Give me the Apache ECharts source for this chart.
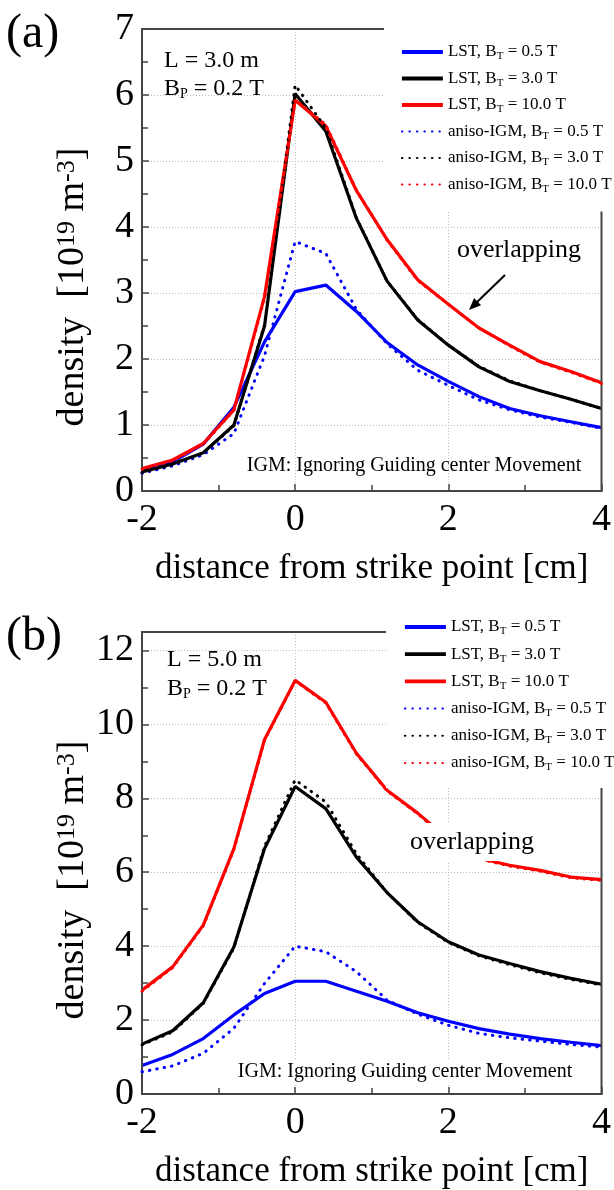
<!DOCTYPE html>
<html>
<head>
<meta charset="utf-8">
<script src="https://cdn.jsdelivr.net/npm/echarts@6/dist/echarts.min.js"></script>
<style>
  html, body { margin: 0; padding: 0; background: #fff; }
  #chart { width: 614px; height: 1190px; }
</style>
</head>
<body>
<div id="chart"></div>
<script>
// distance from strike point [cm]
const xCm = [-2, -1.6, -1.2, -0.8, -0.4, 0, 0.4, 0.8, 1.2, 1.6, 2.0, 2.4, 2.8, 3.2, 3.6, 4.0]

// (a) L = 3.0 m
const lstA05  = [0.31, 0.44, 0.71, 1.27, 2.26, 3.02, 3.12, 2.72, 2.25, 1.91, 1.66, 1.43, 1.25, 1.14, 1.05, 0.96]
const lstA30  = [0.29, 0.41, 0.58, 1.00, 2.50, 6.02, 5.45, 4.13, 3.18, 2.59, 2.21, 1.88, 1.66, 1.52, 1.39, 1.25]
const lstA100 = [0.34, 0.47, 0.72, 1.23, 2.95, 5.92, 5.53, 4.55, 3.81, 3.20, 2.83, 2.47, 2.21, 1.96, 1.81, 1.64]
const igmA05  = [0.27, 0.38, 0.55, 0.87, 2.05, 3.78, 3.60, 2.75, 2.23, 1.83, 1.60, 1.38, 1.23, 1.12, 1.04, 0.95]
const igmA30  = [0.28, 0.40, 0.57, 0.99, 2.52, 6.15, 5.50, 4.14, 3.18, 2.60, 2.21, 1.89, 1.67, 1.52, 1.39, 1.25]
const igmA100 = [0.33, 0.46, 0.71, 1.22, 2.92, 5.93, 5.55, 4.56, 3.80, 3.19, 2.83, 2.47, 2.20, 1.95, 1.80, 1.63]

// (b) L = 5.0 m
const lstB05  = [0.77, 1.07, 1.50, 2.14, 2.72, 3.05, 3.05, 2.78, 2.51, 2.20, 1.97, 1.77, 1.62, 1.50, 1.40, 1.31]
const lstB30  = [1.35, 1.71, 2.47, 3.98, 6.64, 8.32, 7.72, 6.41, 5.45, 4.66, 4.12, 3.76, 3.53, 3.31, 3.13, 2.97]
const lstB100 = [2.81, 3.44, 4.57, 6.64, 9.59, 11.19, 10.60, 9.22, 8.22, 7.60, 6.90, 6.38, 6.19, 6.05, 5.87, 5.80]
const igmB05  = [0.60, 0.76, 1.10, 1.78, 2.99, 4.00, 3.85, 3.31, 2.54, 2.16, 1.86, 1.64, 1.52, 1.43, 1.34, 1.27]
const igmB30  = [1.33, 1.68, 2.45, 3.95, 6.70, 8.50, 7.90, 6.50, 5.45, 4.64, 4.10, 3.74, 3.50, 3.28, 3.10, 2.95]
const igmB100 = [2.78, 3.42, 4.55, 6.62, 9.57, 11.18, 10.58, 9.20, 8.20, 7.58, 6.88, 6.36, 6.17, 6.03, 5.85, 5.78]

const names = [
  'LST, B_T = 0.5 T', 'LST, B_T = 3.0 T', 'LST, B_T = 10.0 T',
  'aniso-IGM, B_T = 0.5 T', 'aniso-IGM, B_T = 3.0 T', 'aniso-IGM, B_T = 10.0 T'
]
const colors = ['#0000ff', '#000000', '#ff0000', '#0000ff', '#000000', '#ff0000']

const FONT = '"Liberation Serif", "Times New Roman", serif'

function makeSeries(name, values, color, dotted, gi) {
  return {
    name: name,
    type: 'line',
    xAxisIndex: gi,
    yAxisIndex: gi,
    data: xCm.map((x, i) => [x, values[i]]),
    symbol: 'none',
    color: color,
    z: dotted ? 3 : 2,
    lineStyle: dotted
      ? { color: color, width: 3, type: [0.5, 7], cap: 'round' }
      : { color: color, width: 3.2 }
  }
}

function xAxisFor(gi) {
  return {
    type: 'value', gridIndex: gi, min: -2, max: 4, interval: 2,
    axisLine: { show: true, onZero: false, lineStyle: { color: '#444', width: 2 } },
    axisTick: { show: true, inside: true, length: 7, lineStyle: { color: '#444', width: 1.5 } },
    minorTick: { show: true, splitNumber: 2, length: 6, lineStyle: { color: '#444', width: 1.5 } },
    splitLine: { show: true, lineStyle: { color: '#bbb', width: 1, type: [1, 2] } },
    axisLabel: { fontFamily: FONT, fontSize: 38, color: '#000', margin: 10 },
    name: 'distance from strike point [cm]',
    nameLocation: 'middle',
    nameGap: 60,
    nameTextStyle: { fontFamily: FONT, fontSize: 35, color: '#000' }
  }
}

function yAxisFor(gi, max, interval) {
  return {
    type: 'value', gridIndex: gi, min: 0, max: max, interval: interval,
    axisLine: { show: true, onZero: false, lineStyle: { color: '#444', width: 2 } },
    axisTick: { show: true, inside: true, length: 7, lineStyle: { color: '#444', width: 1.5 } },
    minorTick: { show: true, splitNumber: 2, length: 6, lineStyle: { color: '#444', width: 1.5 } },
    splitLine: { show: true, lineStyle: { color: '#bbb', width: 1, type: [1, 2] } },
    axisLabel: { fontFamily: FONT, fontSize: 38, color: '#000', margin: 8, showMaxLabel: max % interval === 0 }
  }
}

function legendFor(left, top, padding, gap) {
  return {
    orient: 'vertical', left: left, top: top, padding: padding,
    backgroundColor: '#fff', selectedMode: false,
    itemWidth: 41, itemHeight: 14, itemGap: gap,
    itemStyle: { opacity: 0 },
    // solid entries drawn thicker; dotted entries keep the series style
    data: names.map((n, i) => (i < 3 ? { name: n, lineStyle: { width: 3.8 } } : { name: n })),
    formatter: n => n.replace('B_T', 'B{sub|T}'),
    textStyle: {
      fontFamily: FONT, fontSize: 17, color: '#000', lineHeight: 20,
      rich: { sub: { fontFamily: FONT, fontSize: 11, color: '#000', lineHeight: 8, verticalAlign: 'bottom' } }
    }
  }
}

function txt(x, y, text, size, align, extra) {
  return Object.assign({
    type: 'text', x: x, y: y, z: 100,
    style: {
      text: text, fontFamily: FONT, fontSize: size, fill: '#000',
      align: align, textAlign: align, verticalAlign: 'middle', textVerticalAlign: 'middle',
      rich: {
        sub: { fontFamily: FONT, fontSize: Math.round(size * 0.6), fill: '#000', lineHeight: 8, verticalAlign: 'bottom' },
        sup: { fontFamily: FONT, fontSize: Math.round(size * 0.68), fill: '#000', lineHeight: 10, verticalAlign: 'top' }
      }
    }
  }, extra || {})
}

const series = []
const dataA = [lstA05, lstA30, lstA100, igmA05, igmA30, igmA100]
const dataB = [lstB05, lstB30, lstB100, igmB05, igmB30, igmB100]
dataA.forEach((d, i) => series.push(makeSeries(names[i], d, colors[i], i >= 3, 0)))
dataB.forEach((d, i) => series.push(makeSeries(names[i], d, colors[i], i >= 3, 1)))

const yTitle = 'density  [10{sup|19} m{sup|-3}]'

const chart = echarts.init(document.getElementById('chart'))
chart.setOption({
  animation: false,
  backgroundColor: '#fff',
  grid: [
    { left: 142, right: 9, top: 29, height: 462, show: true, z: 3, borderColor: '#444', borderWidth: 2 },
    { left: 142, right: 9, top: 632, height: 462, show: true, z: 3, borderColor: '#444', borderWidth: 2 }
  ],
  xAxis: [xAxisFor(0), xAxisFor(1)],
  yAxis: [yAxisFor(0, 7, 1), yAxisFor(1, 12.5, 2)],
  legend: [
    legendFor(384, 0, [42, 12, 17, 16], 6.5),
    legendFor(386, 600, [17, 12, 15, 17], 7.2)
  ],
  graphic: [
    txt(6, 34, '(a)', 48, 'left'),
    txt(6, 637, '(b)', 48, 'left'),
    txt(73, 287, yTitle, 38, 'center', { rotation: Math.PI / 2 }),
    txt(73, 880, yTitle, 38, 'center', { rotation: Math.PI / 2 }),
    txt(164, 61, 'L = 3.0 m', 24, 'left'),
    txt(164, 89, 'B{sub|P} = 0.2 T', 24, 'left'),
    txt(167, 660, 'L = 5.0 m', 24, 'left'),
    txt(167, 689, 'B{sub|P} = 0.2 T', 24, 'left'),
    txt(519, 250, 'overlapping', 26, 'center'),
    txt(472, 842, 'overlapping', 26, 'center'),
    txt(414, 466, 'IGM: Ignoring Guiding center Movement', 20, 'center'),
    txt(405, 1072, 'IGM: Ignoring Guiding center Movement', 20, 'center'),
    { type: 'line', z: 100, shape: { x1: 505, y1: 275, x2: 475, y2: 304 }, style: { stroke: '#000', lineWidth: 2 } },
    { type: 'polygon', z: 100, shape: { points: [[469, 310], [481.1, 305.2], [474.1, 298]] }, style: { fill: '#000' } }
  ],
  series: series
})
// white boxes behind the lower "overlapping" label and the IGM note
const g = chart.getOption().graphic[0].elements
chart.setOption({
  graphic: g.map((e, i) => (i === 9 || i === 11)
    ? { id: e.id, style: { backgroundColor: '#fff', padding: i === 9 ? [6, 8, 6, 8] : [2, 2, 2, 2] } }
    : { id: e.id })
})
</script>
</body>
</html>
